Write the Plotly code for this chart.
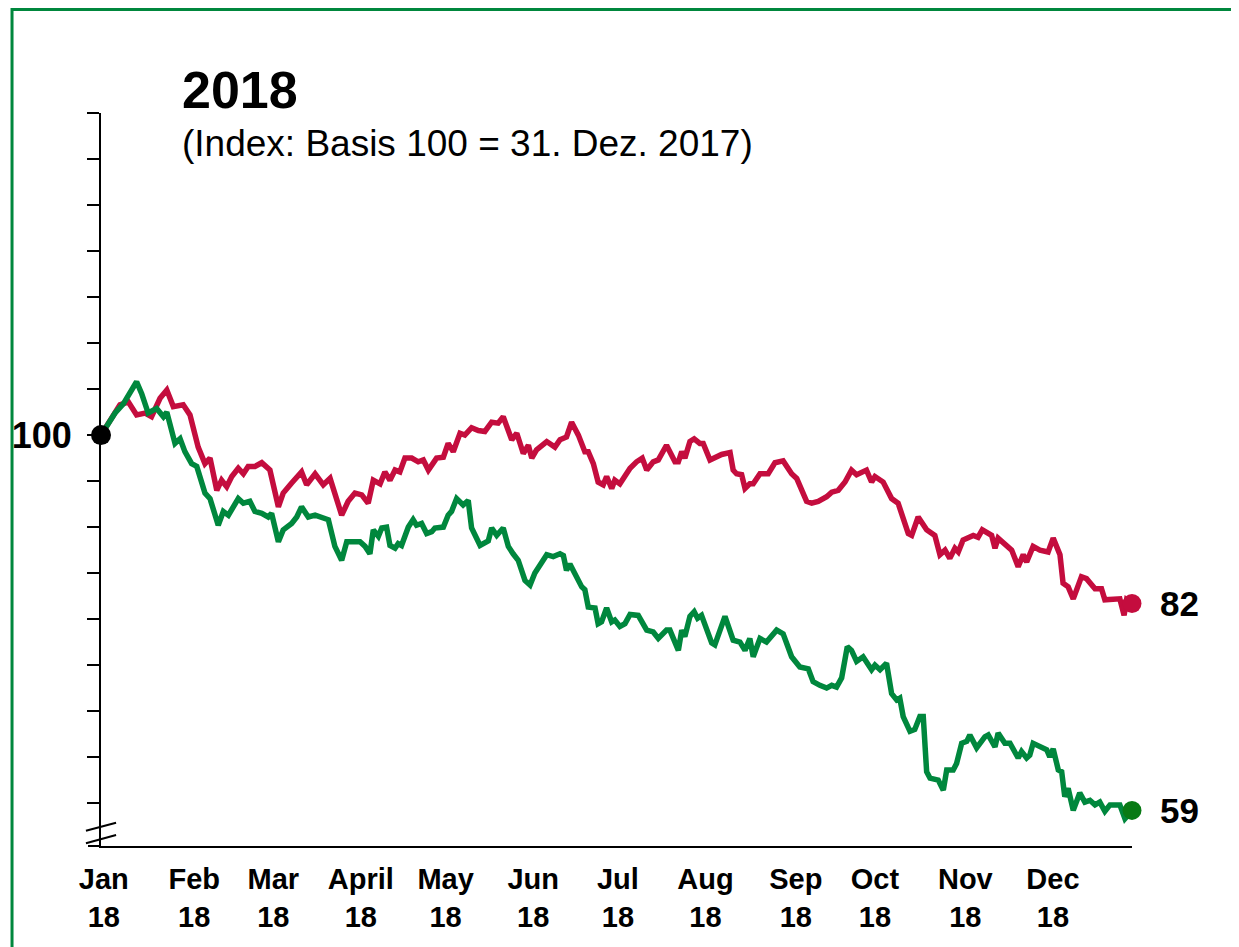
import plotly.graph_objects as go
import pandas as pd

BASE = pd.Timestamp("2017-12-31")

# days after 31 Dec 2017, index values (basis 100 = 31 Dec 2017)
red_days = [0, 6.7, 9.7, 12.6, 15.6, 17.9, 20.9, 23.3, 25.6, 29.1, 31.5, 34.4, 36.8, 38.6, 41.0, 42.7,
            44.5, 46.3, 48.6, 50.4, 52.1, 54.5, 56.9, 59.8, 62.8, 64.5, 67.5, 69.3, 71.0, 72.8, 75.8,
            78.7, 81.1, 85.2, 87.5, 89.9, 92.3, 94.6, 96.4, 98.8, 100.5, 102.3, 104.1, 105.8, 107.6,
            110.0, 112.3, 114.1, 115.9, 118.8, 121.2, 122.9, 124.7, 127.1, 128.8, 131.2, 133.6, 135.9,
            138.3, 140.6, 142.4, 145.4, 147.2, 149.5, 151.3, 152.5, 154.2, 157.8, 160.7, 162.5, 164.8,
            166.6, 169.0, 171.3, 172.5, 174.3, 176.0, 177.8, 179.0, 180.8, 181.9, 183.7, 185.5, 187.3,
            189.6, 191.6, 193.2, 195.5, 197.3, 200.2, 203.2, 204.4, 205.6, 206.7, 208.5, 210.0, 212.0,
            213.2, 215.6, 217.9, 219.7, 222.7, 223.8, 225.0, 226.8, 228.0, 229.7, 230.9, 233.3, 236.2,
            238.6, 241.5, 244.5, 246.3, 249.8, 251.6, 253.9, 256.9, 258.7, 261.0, 263.4, 265.7, 267.5,
            271.0, 272.8, 274.0, 276.9, 279.9, 282.2, 285.8, 287.0, 289.3, 292.3, 295.2, 297.0, 298.8,
            300.5, 302.3, 303.5, 305.2, 308.8, 310.5, 312.0, 315.3, 316.5, 317.6, 320.6, 322.4, 324.7,
            326.5, 327.7, 330.0, 332.4, 335.3, 337.1, 339.5, 340.6, 342.4, 344.2, 347.1, 348.9, 351.9,
            354.2, 355.4, 360.7, 362.2, 363.1, 365.0]
red_vals = [100.0, 103.3, 103.6, 102.2, 102.4, 102.0, 104.0, 104.9, 103.1, 103.3, 102.2, 98.7, 96.9, 97.5,
            94.0, 95.1, 94.4, 95.5, 96.4, 95.8, 96.6, 96.6, 97.0, 96.2, 92.2, 93.7, 94.8, 95.5, 96.0, 94.6,
            95.8, 94.6, 95.3, 91.3, 92.8, 93.7, 93.5, 92.6, 95.1, 94.7, 96.0, 95.1, 96.2, 96.0, 97.5, 97.5,
            97.1, 97.3, 96.2, 97.5, 97.6, 99.1, 98.2, 100.2, 100.0, 100.8, 100.5, 100.4, 101.4, 101.3,
            102.0, 99.5, 100.2, 98.0, 98.9, 97.5, 98.4, 99.3, 98.7, 99.5, 99.8, 101.4, 100.0, 98.2, 98.2,
            96.9, 94.9, 94.6, 95.5, 94.2, 95.1, 94.7, 95.7, 96.4, 97.1, 97.5, 96.2, 97.1, 97.3, 98.9,
            97.1, 97.1, 98.2, 97.5, 99.3, 99.6, 99.1, 99.1, 97.3, 97.6, 97.9, 98.1, 96.2, 95.8, 95.7,
            94.2, 94.7, 94.7, 95.8, 95.8, 97.0, 97.2, 95.8, 95.3, 92.8, 92.6, 92.8, 93.3, 93.8, 94.0,
            94.9, 96.2, 95.7, 96.2, 94.9, 95.5, 94.9, 93.1, 92.6, 89.3, 89.1, 91.1, 89.7, 89.1, 87.0,
            87.5, 86.6, 87.7, 87.3, 88.6, 89.1, 88.9, 89.7, 89.1, 87.7, 88.8, 87.9, 87.5, 85.7, 87.0,
            86.2, 87.9, 87.5, 87.3, 88.8, 87.0, 83.9, 83.5, 82.2, 84.6, 84.4, 83.3, 83.3, 82.1, 82.2,
            80.4, 82.1, 81.7]

green_days = [0, 5.0, 7.9, 9.7, 12.6, 14.4, 16.7, 19.7, 22.1, 23.3, 26.2, 28.0, 29.7, 32.1, 33.9, 36.8,
              38.6, 41.5, 43.3, 45.1, 48.6, 50.4, 52.7, 54.5, 56.9, 59.2, 60.4, 62.8, 64.5, 67.5, 69.3,
              71.0, 73.4, 75.8, 78.7, 80.5, 82.8, 85.2, 87.0, 91.7, 93.5, 95.2, 96.4, 98.2, 99.4, 101.1,
              102.3, 104.1, 105.2, 106.4, 108.8, 110.5, 111.7, 113.5, 115.3, 117.1, 118.2, 121.2, 122.9,
              124.1, 125.9, 128.2, 130.0, 131.2, 134.2, 137.1, 138.3, 140.1, 142.4, 144.2, 145.9, 147.7,
              150.1, 151.9, 153.6, 155.4, 157.8, 160.1, 162.5, 163.7, 164.8, 166.0, 167.8, 169.0, 170.2,
              171.3, 172.5, 174.9, 176.0, 177.2, 179.0, 180.8, 181.9, 183.7, 185.5, 187.3, 190.2, 193.2,
              195.5, 197.3, 200.2, 201.4, 204.4, 205.6, 206.7, 208.5, 210.0, 211.2, 212.6, 216.2, 217.3,
              220.9, 223.8, 226.2, 228.0, 229.7, 230.9, 233.3, 235.6, 239.2, 241.5, 244.5, 247.4, 250.4,
              252.1, 254.5, 256.9, 258.7, 260.4, 262.2, 264.2, 265.7, 267.5, 269.8, 272.8, 274.0, 275.8,
              278.1, 279.9, 281.7, 282.8, 284.0, 286.4, 288.1, 289.9, 291.1, 292.3, 293.5, 296.4, 298.2,
              299.4, 301.7, 302.9, 304.7, 306.5, 307.6, 310.0, 312.9, 314.1, 316.5, 317.6, 320.0, 321.8,
              324.7, 325.9, 327.7, 328.8, 330.0, 332.4, 334.8, 335.9, 337.1, 338.9, 340.1, 341.2, 342.4,
              344.2, 346.5, 348.3, 350.1, 351.9, 353.6, 355.4, 357.2, 360.7, 362.5, 365.0]
green_vals = [100.0, 102.4, 103.4, 104.3, 105.8, 104.5, 102.4, 102.9, 102.0, 102.5, 99.1, 99.6, 98.2, 96.9,
              96.6, 93.7, 93.1, 90.2, 91.7, 91.3, 93.1, 92.6, 92.8, 91.7, 91.5, 91.1, 91.5, 88.4, 89.7, 90.4,
              91.1, 92.2, 91.1, 91.3, 90.9, 90.8, 87.9, 86.4, 88.4, 88.4, 87.9, 87.1, 89.7, 89.0, 89.9,
              90.0, 88.0, 87.7, 88.2, 88.0, 90.0, 90.8, 90.2, 90.4, 89.3, 89.5, 89.9, 90.0, 91.3, 91.7,
              93.1, 92.4, 92.9, 89.9, 88.0, 88.5, 89.9, 89.1, 89.9, 87.9, 87.1, 86.4, 84.2, 83.7, 85.0,
              85.9, 87.0, 86.8, 87.1, 86.9, 85.3, 86.0, 85.0, 84.2, 83.5, 83.2, 81.3, 81.2, 79.5, 79.7,
              81.2, 79.7, 79.9, 79.2, 79.5, 80.5, 80.4, 78.8, 78.6, 77.9, 78.8, 78.8, 76.6, 78.8, 78.1,
              80.3, 80.8, 80.1, 80.4, 77.4, 77.2, 80.3, 77.7, 77.5, 76.6, 77.9, 75.9, 77.9, 77.5, 78.8,
              78.4, 75.9, 74.8, 74.6, 73.2, 72.8, 72.5, 72.8, 72.6, 73.6, 77.0, 76.6, 75.4, 75.9, 74.5,
              75.0, 74.5, 75.2, 71.9, 71.2, 71.4, 69.4, 67.8, 68.0, 69.4, 69.4, 63.4, 62.7, 62.5, 61.4,
              63.6, 63.6, 64.3, 66.5, 66.7, 67.4, 66.0, 67.2, 67.4, 66.1, 67.6, 66.5, 66.5, 64.9, 65.6,
              64.9, 65.2, 66.5, 66.1, 65.8, 65.0, 65.9, 63.6, 63.4, 60.7, 61.6, 59.2, 61.1, 60.1, 60.3,
              59.8, 60.1, 59.1, 59.8, 59.8, 58.3, 59.2]

month_labels = ["Jan<br>18", "Feb<br>18", "Mar<br>18", "April<br>18", "May<br>18", "Jun<br>18",
                "Jul<br>18", "Aug<br>18", "Sep<br>18", "Oct<br>18", "Nov<br>18", "Dec<br>18"]
month_tick_days = [1, 33, 61, 92, 122, 153, 183, 214, 246, 274, 306, 337]
y_tick_vals = list(range(60, 136, 5))
y_tick_text = ["100" if v == 100 else "" for v in y_tick_vals]

RED = "#C40D3E"
GREEN = "#00873D"
GREEN_DOT = "#087A14"
BORDER = "#00873D"
FONT = "Liberation Sans, Arial, sans-serif"


def to_dates(days):
    return BASE + pd.to_timedelta(days, unit="D")


red_x = to_dates(red_days)
green_x = to_dates(green_days)

fig = go.Figure()
fig.add_trace(go.Scatter(x=red_x, y=red_vals, mode="lines",
                         line=dict(color=RED, width=5.5), showlegend=False))
fig.add_trace(go.Scatter(x=green_x, y=green_vals, mode="lines",
                         line=dict(color=GREEN, width=5.5), showlegend=False))
fig.add_trace(go.Scatter(x=[red_x[-1]], y=[red_vals[-1]], mode="markers",
                         marker=dict(color=RED, size=19), showlegend=False, cliponaxis=False))
fig.add_trace(go.Scatter(x=[green_x[-1]], y=[green_vals[-1]], mode="markers",
                         marker=dict(color=GREEN_DOT, size=19), showlegend=False, cliponaxis=False))
fig.add_trace(go.Scatter(x=[red_x[0]], y=[red_vals[0]], mode="markers",
                         marker=dict(color="black", size=20), showlegend=False, cliponaxis=False))

# page body has an 8px margin, so the figure is 8px smaller than the window
fig.update_layout(
    width=1231, height=939,
    margin=dict(l=93, r=107, t=105, b=101),
    paper_bgcolor="white", plot_bgcolor="white",
    font=dict(family=FONT, color="black"),
    showlegend=False,
)
fig.update_xaxes(
    type="date", automargin=False,
    range=[to_dates([0])[0], to_dates([365])[0]],
    tickvals=to_dates(month_tick_days), ticktext=month_labels,
    tickfont=dict(size=29, weight="bold", family=FONT),
    ticks="", showgrid=False, zeroline=False,
    showline=True, linecolor="black", linewidth=2,
    ticklabelstandoff=6,
)
fig.update_yaxes(
    automargin=False,
    range=[55.33, 135.02],
    tickvals=y_tick_vals, ticktext=y_tick_text,
    tickfont=dict(size=36, weight="bold", family=FONT),
    ticks="outside", ticklen=12, tickwidth=1.5, tickcolor="black",
    showgrid=False, zeroline=False,
    showline=True, linecolor="black", linewidth=2,
    ticklabelstandoff=8,
)

# title + subtitle
fig.add_annotation(text="<b>2018</b>", xref="paper", yref="paper", x=0.0766, y=1.031,
                   xanchor="left", yanchor="middle", showarrow=False,
                   font=dict(size=52, family=FONT, color="black"))
fig.add_annotation(text="(Index: Basis 100 = 31. Dez. 2017)", xref="paper", yref="paper",
                   x=0.0766, y=0.959, xanchor="left", yanchor="middle", showarrow=False,
                   font=dict(size=37, family=FONT, color="black"))

# end labels
fig.add_annotation(text="<b>%d</b>" % round(red_vals[-1]), x=red_x[-1], y=red_vals[-1],
                   xref="x", yref="y", xanchor="left", yanchor="middle", xshift=26,
                   showarrow=False, font=dict(size=35, family=FONT, color="black"))
fig.add_annotation(text="<b>%d</b>" % round(green_vals[-1]), x=green_x[-1], y=green_vals[-1],
                   xref="x", yref="y", xanchor="left", yanchor="middle", xshift=26,
                   showarrow=False, font=dict(size=35, family=FONT, color="black"))

# axis-break marks and small x-axis extension
fig.add_shape(type="line", xref="x domain", yref="y domain", x0=-0.0146, x1=0.0146,
              y0=0.0209, y1=0.0318, line=dict(color="black", width=2))
fig.add_shape(type="line", xref="x domain", yref="y domain", x0=-0.0146, x1=0.0146,
              y0=0.0037, y1=0.0150, line=dict(color="black", width=2))
fig.add_shape(type="line", xref="x domain", yref="y domain", x0=-0.0126, x1=0,
              y0=0, y1=0, line=dict(color="black", width=2))

# green frame
fig.add_shape(type="rect", xref="paper", yref="paper", x0=-0.0863, x1=1.1013,
              y0=-0.2, y1=1.1412, line=dict(color=BORDER, width=3), layer="above")

fig.write_html("out.html")
